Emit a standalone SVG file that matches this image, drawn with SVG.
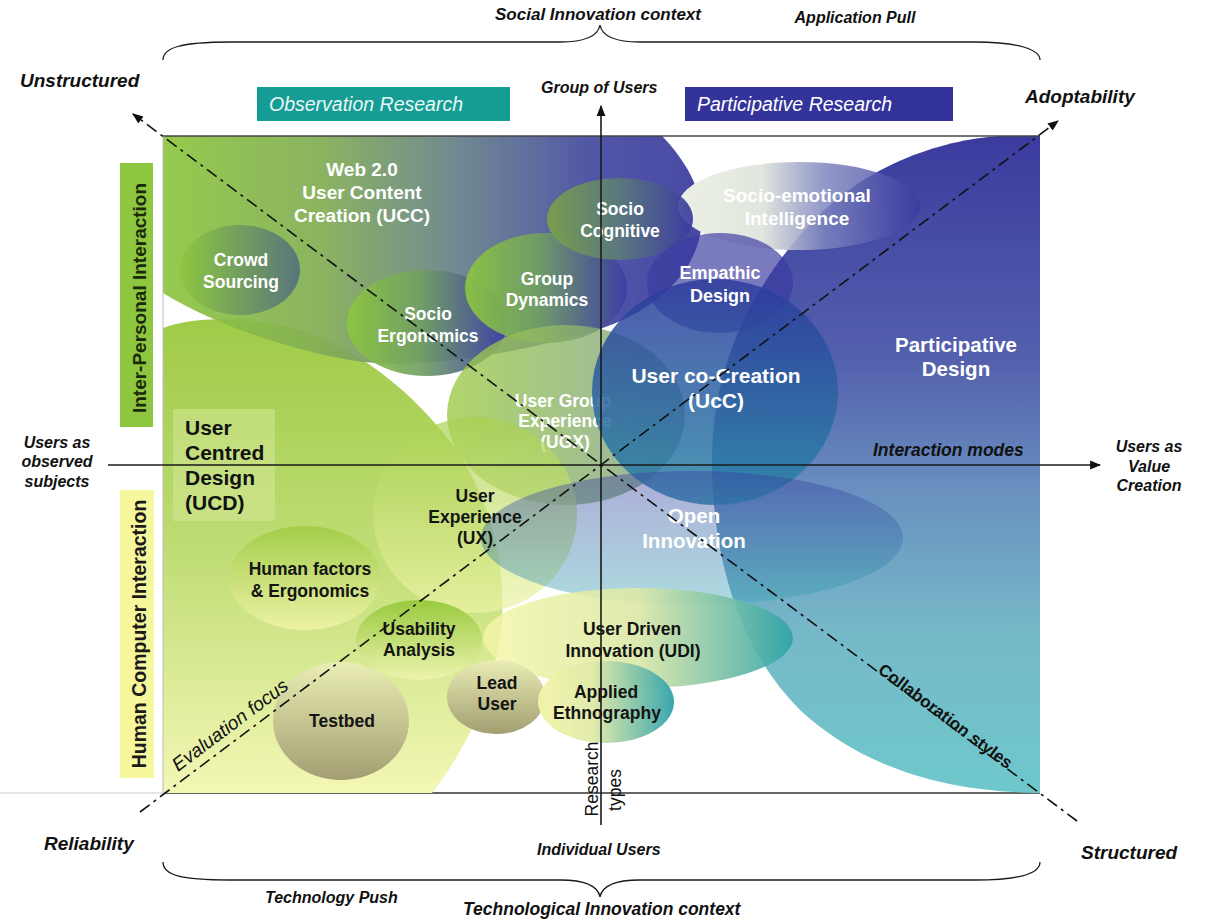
<svg xmlns="http://www.w3.org/2000/svg" width="1213" height="923" viewBox="0 0 1213 923">
<defs>
<style>
.lw{font-family:"Liberation Sans",Arial,Helvetica,sans-serif;font-weight:bold;font-size:17.5px;fill:#ffffff;text-anchor:middle}
.lb{font-family:"Liberation Sans",Arial,Helvetica,sans-serif;font-weight:bold;font-size:17.5px;fill:#141414;text-anchor:middle}
.ax{font-family:"Liberation Sans",Arial,Helvetica,sans-serif;font-style:italic;font-weight:bold;fill:#111111}
.it{font-family:"Liberation Sans",Arial,Helvetica,sans-serif;font-style:italic;fill:#111111}
.dd{fill:none;stroke:#111111;stroke-width:1.6;stroke-dasharray:12 5 3 5}
.axis{stroke:#1a1a1a;stroke-width:1.6;fill:none}
.brace{fill:none;stroke:#1a1a1a;stroke-width:1.3}
</style>
<marker id="arr" viewBox="0 0 10 10" refX="9" refY="5" markerWidth="11" markerHeight="11" markerUnits="userSpaceOnUse" orient="auto"><path d="M0,1 L10,5 L0,9 Z" fill="#111111"/></marker>
<clipPath id="frame"><rect x="163" y="136" width="877" height="657"/></clipPath>
<linearGradient id="gPD" gradientUnits="userSpaceOnUse" x1="0" y1="136" x2="0" y2="793">
<stop offset="0" stop-color="#3b3b9e"/><stop offset="0.35" stop-color="#5462ae"/><stop offset="0.55" stop-color="#6a92c0"/><stop offset="0.75" stop-color="#76b8c8"/><stop offset="1" stop-color="#6ec8cb"/>
</linearGradient>
<linearGradient id="gUCC" gradientUnits="userSpaceOnUse" x1="163" y1="0" x2="700" y2="0">
<stop offset="0" stop-color="#8dc63f"/><stop offset="0.3" stop-color="#82ad55"/><stop offset="0.55" stop-color="#65808a"/><stop offset="0.8" stop-color="#4449a0"/><stop offset="1" stop-color="#3b3b9f"/>
</linearGradient>
<linearGradient id="gUCD" gradientUnits="userSpaceOnUse" x1="0" y1="320" x2="0" y2="793">
<stop offset="0" stop-color="#a0cb48"/><stop offset="0.45" stop-color="#bcdb70"/><stop offset="1" stop-color="#f3f7b5"/>
</linearGradient>
<linearGradient id="gGB" x1="0" y1="0" x2="1" y2="0">
<stop offset="0" stop-color="#8cc63f"/><stop offset="0.45" stop-color="#72a062"/><stop offset="1" stop-color="#3b3ca6"/>
</linearGradient>
<linearGradient id="gSC" x1="0" y1="0" x2="1" y2="0">
<stop offset="0" stop-color="#7aa248"/><stop offset="0.5" stop-color="#5a7a7a"/><stop offset="1" stop-color="#3a3aa2"/>
</linearGradient>
<linearGradient id="gCS" x1="0" y1="0" x2="1" y2="0">
<stop offset="0" stop-color="#8dc63f"/><stop offset="1" stop-color="#4e6a80"/>
</linearGradient>
<linearGradient id="gSE" x1="0" y1="0" x2="1" y2="0">
<stop offset="0" stop-color="#eef2e4" stop-opacity="1"/><stop offset="0.35" stop-color="#dfe4dc" stop-opacity="0.95"/><stop offset="0.6" stop-color="#8088c0" stop-opacity="0.85"/><stop offset="1" stop-color="#3a3aa0" stop-opacity="0.8"/>
</linearGradient>
<linearGradient id="gUGX" x1="0" y1="0" x2="1" y2="0">
<stop offset="0" stop-color="#9ccb45"/><stop offset="1" stop-color="#7f9e90"/>
</linearGradient>
<linearGradient id="gUX" x1="0" y1="0" x2="0" y2="1">
<stop offset="0" stop-color="#a8d050"/><stop offset="1" stop-color="#eef4a8"/>
</linearGradient>
<linearGradient id="gUcC" x1="0" y1="0" x2="0" y2="1">
<stop offset="0" stop-color="#2c3a9c"/><stop offset="1" stop-color="#2786a6"/>
</linearGradient>
<linearGradient id="gOI" x1="0" y1="0" x2="0" y2="1">
<stop offset="0" stop-color="#3a3aa0"/><stop offset="1" stop-color="#3aa8b4"/>
</linearGradient>
<linearGradient id="gHF" x1="0" y1="0" x2="0" y2="1">
<stop offset="0" stop-color="#a2cc48"/><stop offset="1" stop-color="#eef3a6"/>
</linearGradient>
<linearGradient id="gUS" x1="0" y1="0" x2="0" y2="1">
<stop offset="0" stop-color="#96c83a"/><stop offset="1" stop-color="#eef4b0"/>
</linearGradient>
<linearGradient id="gUDI" x1="0" y1="0" x2="1" y2="0">
<stop offset="0" stop-color="#f4f6a6" stop-opacity="0.9"/><stop offset="0.5" stop-color="#dce8a8"/><stop offset="1" stop-color="#2fa3a8"/>
</linearGradient>
<linearGradient id="gAE" x1="0" y1="0" x2="1" y2="0">
<stop offset="0" stop-color="#f2f4a8"/><stop offset="0.4" stop-color="#e0eaa8"/><stop offset="1" stop-color="#30a2aa"/>
</linearGradient>
<linearGradient id="gTB" x1="0" y1="0" x2="0" y2="1">
<stop offset="0" stop-color="#eaedb4"/><stop offset="1" stop-color="#a29e72"/>
</linearGradient>
</defs>

<rect width="1213" height="923" fill="#ffffff"/>

<g id="frame-lines">
<line x1="0" y1="793" x2="163" y2="793" stroke="#dddddd" stroke-width="1.5"/>
<line x1="163" y1="793" x2="1040" y2="793" stroke="#333333" stroke-width="1.5"/>
</g>

<g id="regions" clip-path="url(#frame)">
<g id="participative-design">
<path d="M1040,136 L1000,136 C940,140 860,165 800,235 C740,305 712,380 712,460 C712,560 740,650 800,710 C870,775 960,792 1040,793 Z" fill="url(#gPD)"/>
</g>
<g id="ucd-region">
<path d="M163,328 C190,318 230,316 280,325 C345,338 405,385 445,435 C490,490 510,570 500,640 C490,700 465,750 432,793 L163,793 Z" fill="url(#gUCD)"/>
</g>
<g id="ucc-region">
<path d="M163,136 H662 C690,165 708,200 700,235 C690,285 640,318 590,332 C520,352 420,372 350,360 C300,352 220,328 163,293 Z" fill="url(#gUCC)" opacity="0.93"/>
</g>
<g id="socio-emotional"><ellipse cx="799" cy="206" rx="121" ry="44" fill="url(#gSE)"/></g>
<g id="crowd-sourcing"><ellipse cx="240" cy="270" rx="60" ry="45" fill="url(#gCS)" opacity="0.85"/></g>
<g id="socio-ergonomics"><ellipse cx="427" cy="323" rx="80" ry="53" fill="url(#gGB)" opacity="0.92"/></g>
<g id="group-dynamics"><ellipse cx="546" cy="288" rx="81" ry="55" fill="url(#gGB)" opacity="0.92"/></g>
<g id="socio-cognitive"><ellipse cx="620" cy="219" rx="73" ry="41" fill="url(#gSC)" opacity="0.92"/></g>
<g id="empathic-design"><ellipse cx="720" cy="283" rx="73" ry="50" fill="#3b3b9f" opacity="0.68"/></g>
<g id="ugx"><ellipse cx="566" cy="415" rx="119" ry="90" fill="url(#gUGX)" opacity="0.8"/>
<text class="lw" x="563" y="407">User Group</text>
<text class="lw" x="565" y="427">Experience</text>
<text class="lw" x="565" y="448">(UGX)</text>
</g>
<g id="ux"><ellipse cx="475" cy="515" rx="102" ry="98" fill="url(#gUX)" opacity="0.7"/></g>
<g id="human-factors"><ellipse cx="305" cy="578" rx="76" ry="52" fill="url(#gHF)" opacity="0.95"/></g>
<g id="ucc-cocreation"><ellipse cx="715" cy="392" rx="123" ry="113" fill="url(#gUcC)" opacity="0.84"/></g>
<g id="open-innovation"><ellipse cx="692" cy="538" rx="211" ry="67" fill="url(#gOI)" opacity="0.42"/></g>
<g id="udi"><ellipse cx="638" cy="638" rx="155" ry="50" fill="url(#gUDI)" opacity="0.92"/></g>
<g id="usability"><ellipse cx="419" cy="640" rx="63" ry="40" fill="url(#gUS)" opacity="0.95"/></g>
<g id="testbed"><ellipse cx="341" cy="721" rx="68" ry="59" fill="url(#gTB)"/></g>
<g id="lead-user"><ellipse cx="496" cy="697" rx="49" ry="37" fill="url(#gTB)"/></g>
<g id="applied-ethnography"><ellipse cx="606" cy="702" rx="68" ry="41" fill="url(#gAE)" opacity="0.95"/></g>
<g id="ucd-box"><rect x="173" y="409" width="102" height="112" fill="#d4e898" opacity="0.55"/></g>
</g>

<g id="frame-top">
<line x1="163" y1="136" x2="1040" y2="136" stroke="#444444" stroke-width="1.3"/>
<line x1="163" y1="136" x2="163" y2="793" stroke="#bbbbbb" stroke-width="1"/>
</g>

<g id="labels">
<text class="lw" style="font-size:19px" x="362" y="176">Web 2.0</text>
<text class="lw" style="font-size:19px" x="362" y="199">User Content</text>
<text class="lw" style="font-size:19px" x="362" y="222">Creation (UCC)</text>
<text class="lw" x="241" y="266">Crowd</text>
<text class="lw" x="241" y="288">Sourcing</text>
<text class="lw" x="428" y="320">Socio</text>
<text class="lw" x="428" y="342">Ergonomics</text>
<text class="lw" x="547" y="285">Group</text>
<text class="lw" x="547" y="306">Dynamics</text>
<text class="lw" x="620" y="215">Socio</text>
<text class="lw" x="620" y="237">Cognitive</text>
<text class="lw" style="font-size:19px" x="797" y="202">Socio-emotional</text>
<text class="lw" style="font-size:19px" x="797" y="225">Intelligence</text>
<text class="lw" style="font-size:18px" x="720" y="279">Empathic</text>
<text class="lw" style="font-size:18px" x="720" y="302">Design</text>
<text class="lw" style="font-size:21px" x="716" y="383">User co-Creation</text>
<text class="lw" style="font-size:21px" x="716" y="408">(UcC)</text>
<text class="lw" style="font-size:20.5px" x="956" y="352">Participative</text>
<text class="lw" style="font-size:20.5px" x="956" y="376">Design</text>
<text class="lw" style="font-size:20.5px" x="694" y="523">Open</text>
<text class="lw" style="font-size:20.5px" x="694" y="548">Innovation</text>
<text class="lb" x="475" y="502">User</text>
<text class="lb" x="475" y="523">Experience</text>
<text class="lb" x="475" y="544">(UX)</text>
<text class="lb" x="310" y="575">Human factors</text>
<text class="lb" x="310" y="597">&amp; Ergonomics</text>
<text class="lb" x="419" y="635">Usability</text>
<text class="lb" x="419" y="656">Analysis</text>
<text class="lb" x="632" y="635">User Driven</text>
<text class="lb" x="633" y="657">Innovation (UDI)</text>
<text class="lb" x="497" y="689">Lead</text>
<text class="lb" x="497" y="710">User</text>
<text class="lb" x="606" y="698">Applied</text>
<text class="lb" x="607" y="719">Ethnography</text>
<text class="lb" x="342" y="727">Testbed</text>
<g style="font-family:'Liberation Sans',Arial,sans-serif;font-weight:bold;font-size:21px;fill:#111111">
<text x="185" y="435">User</text>
<text x="185" y="460">Centred</text>
<text x="185" y="485">Design</text>
<text x="185" y="510">(UCD)</text>
</g>
</g>

<g id="band-inter-personal">
<rect x="120" y="163" width="33" height="264" fill="#8dc63f"/>
<text transform="translate(146,298) rotate(-90)" style="font-family:'Liberation Sans',Arial,sans-serif;font-weight:bold;font-size:19px;fill:#1a2a0a;text-anchor:middle">Inter-Personal Interaction</text>
</g>
<g id="band-hci">
<rect x="120" y="490" width="34" height="288" fill="#f6f69c"/>
<text transform="translate(146,634) rotate(-90)" style="font-family:'Liberation Sans',Arial,sans-serif;font-weight:bold;font-size:19.5px;fill:#1a1a1a;text-anchor:middle">Human Computer Interaction</text>
</g>
<g id="observation-research">
<rect x="257" y="87" width="253" height="34" fill="#159d95"/>
<text x="269" y="111" style="font-family:'Liberation Sans',Arial,sans-serif;font-style:italic;font-size:19.5px;fill:#eaf6f4">Observation Research</text>
</g>
<g id="participative-research">
<rect x="685" y="87" width="268" height="34" fill="#33339b"/>
<text x="697" y="111" style="font-family:'Liberation Sans',Arial,sans-serif;font-style:italic;font-size:19.5px;fill:#ffffff">Participative Research</text>
</g>

<g id="connectors">
<line class="axis" x1="601" y1="825" x2="601" y2="106" marker-end="url(#arr)"/>
<line class="axis" x1="108" y1="465" x2="1100" y2="465" marker-end="url(#arr)"/>
<line class="dd" x1="1077" y1="821" x2="133" y2="114" marker-end="url(#arr)"/>
<line class="dd" x1="140" y1="812" x2="1058" y2="121" marker-end="url(#arr)"/>
<path class="brace" d="M163,60 C163,48 180,42 230,42 L560,42 C585,42 598,36 600,25 C602,36 615,42 640,42 L975,42 C1020,42 1040,50 1040,60"/>
<path class="brace" d="M163,862 C163,875 180,880 230,880 L560,880 C585,880 598,886 600,897 C602,886 615,880 640,880 L975,880 C1020,880 1040,874 1040,862"/>
</g>

<g id="axis-labels">
<text class="ax" x="598" y="20" style="font-size:17px" text-anchor="middle">Social Innovation context</text>
<text class="ax" x="855" y="23" style="font-size:16px" text-anchor="middle">Application Pull</text>
<text class="ax" x="20" y="87" style="font-size:19px">Unstructured</text>
<text class="ax" x="541" y="93" style="font-size:16px">Group of Users</text>
<text class="ax" x="1025" y="103" style="font-size:19px">Adoptability</text>
<text class="ax" x="873" y="456" style="font-size:17.5px">Interaction modes</text>
<text class="ax" x="1149" y="452" style="font-size:16px" text-anchor="middle">Users as</text>
<text class="ax" x="1149" y="472" style="font-size:16px" text-anchor="middle">Value</text>
<text class="ax" x="1149" y="491" style="font-size:16px" text-anchor="middle">Creation</text>
<text class="ax" x="57" y="448" style="font-size:16px" text-anchor="middle">Users as</text>
<text class="ax" x="57" y="467" style="font-size:16px" text-anchor="middle">observed</text>
<text class="ax" x="57" y="487" style="font-size:16px" text-anchor="middle">subjects</text>
<text class="ax" x="44" y="850" style="font-size:19px">Reliability</text>
<text class="ax" x="537" y="855" style="font-size:16px">Individual Users</text>
<text class="ax" x="1081" y="859" style="font-size:19px">Structured</text>
<text class="ax" x="265" y="903" style="font-size:16px">Technology Push</text>
<text class="ax" x="463" y="915" style="font-size:17.5px">Technological Innovation context</text>
<text class="it" transform="translate(178,772) rotate(-36.85)" style="font-size:19px">Evaluation focus</text>
<text transform="translate(877,672) rotate(36.85)" style="font-family:'Liberation Sans',Arial,sans-serif;font-weight:bold;font-size:17px;fill:#111111">Collaboration styles</text>
<text transform="translate(598,779) rotate(-90)" style="font-family:'Liberation Sans',Arial,sans-serif;font-size:17.5px;fill:#111111;text-anchor:middle">Research</text>
<text transform="translate(621,790) rotate(-90)" style="font-family:'Liberation Sans',Arial,sans-serif;font-size:17.5px;fill:#111111;text-anchor:middle">types</text>
</g>
</svg>
